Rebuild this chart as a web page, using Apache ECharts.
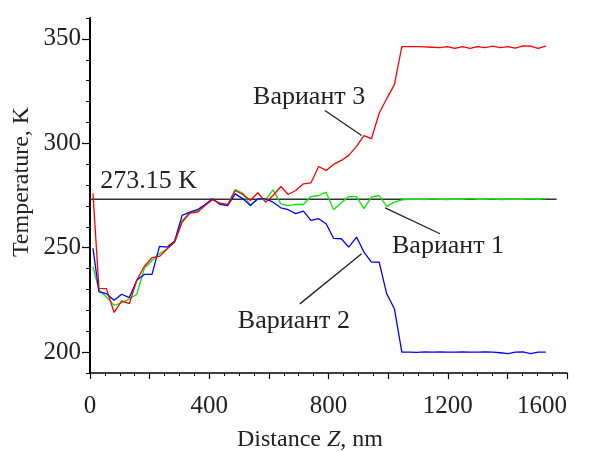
<!DOCTYPE html>
<html><head><meta charset="utf-8">
<script src="https://cdn.jsdelivr.net/npm/echarts@6/dist/echarts.min.js"></script>
<style>html,body{margin:0;padding:0;background:#fff}#c{width:595px;height:452px}</style>
</head><body><div id="c"></div>
<script>
// Distance Z (nm) sample positions shared by all variants
const distanceNm = [10,
  30, 55, 81, 106, 132, 157, 182, 208, 233, 259,
  284, 309, 335, 360, 386, 411, 436, 462, 487, 513,
  538, 563, 589, 614, 640, 665, 690, 716, 741, 767,
  792, 817, 843, 868, 894, 919, 944, 970, 995, 1021,
  1046,
  1071, 1097, 1122, 1148, 1173, 1198, 1224, 1249, 1275, 1300,
  1325, 1351, 1376, 1402, 1427, 1452, 1478, 1503, 1529];

// Вариант 1 (green)
const variant1 = [241,
  229.8, 226.4, 222.4, 223.6, 225.4, 227.7, 240, 243.9, 247.1, 249.5,
  252.7, 263, 266.8, 267.5, 270.5, 273.2, 271, 270.5, 277.8, 276,
  270.2, 273.4, 273, 277.7, 271, 270.2, 270.7, 270.7, 274.5, 275,
  276.6, 268.2, 271.5, 274.5, 274.5, 268.7, 274.2, 275, 269.8, 271.8,
  272.9,
  273.1, 273.3, 273.0, 273.4, 273.2, 273.0, 273.3, 273.2, 273.5, 273.1,
  273.2, 273.4, 273.0, 273.2, 273.3, 273.1, 273.4, 273.2, 273.5];

// Вариант 2 (blue)
const variant2 = [249.7,
  228.8, 228, 224.8, 227.7, 226.1, 234.4, 237.2, 237.2, 250.6, 250.3,
  253.2, 265.5, 267, 268.2, 270.7, 273.4, 270.7, 270.2, 275.8, 273.4,
  270.2, 273.4, 273.4, 271.8, 269.1, 268.2, 266.3, 267.5, 263.1, 263.9,
  261.5, 254.5, 254.3, 250.3, 255.1, 247.9, 243.1, 243.1, 228, 220.8,
  200.0,
  200.0, 199.9, 200.1, 200.0, 200.1, 200.0, 200.0, 200.1, 200.0, 200.0,
  200.1, 200.0, 199.7, 199.3, 200.0, 200.1, 199.3, 200.0, 200.0];

// Вариант 3 (red)
const variant3 = [276,
  230.5, 230.4, 219, 224.5, 223.2, 234.4, 241, 245.2, 245.8, 249.5,
  252.7, 262.2, 266.6, 267, 270.2, 273, 271.3, 270.7, 277.4, 275.5,
  272.6, 276.3, 271.8, 275, 279.3, 275.5, 277.4, 280.6, 281, 288.9,
  287, 289.9, 291.8, 294.2, 298.5, 303.7, 302.2, 314.4, 321.3, 328.1,
  346.3,
  346.3, 346.3, 346.2, 346.0, 345.8, 346.3, 345.4, 346.3, 345.4, 346.3,
  345.8, 346.5, 345.8, 346.3, 345.6, 346.6, 346.5, 345.4, 346.5];

// 273.15 K reference line
const refZ = [0, 1565];
const refT = [273.15, 273.15];

const yMajorTicks = [200, 250, 300, 350];

// annotation texts (data coords of left/middle anchor) and leader lines (data coords)
const labelTexts = ['Вариант 3', 'Вариант 1', 'Вариант 2', '273.15 K'];
const labelAnchors = [[547, 321.9], [1013, 250.6], [496, 214.7], [34, 281.7]];
const leaderFrom = [[788, 315.7], [990, 269.1], [704, 223.1]];
const leaderTo = [[911, 303.7], [1174, 256.7], [911, 247.1]];

const FONT = '"Liberation Serif", "Times New Roman", serif';
const TXT = '#222';

function pairs(xs, ys) { return xs.map((x, i) => [x, ys[i]]); }

const chart = echarts.init(document.getElementById('c'), null, {renderer: 'canvas'});

const lineSeries = (name, ys, color, w) => ({
  name, type: 'line', data: pairs(distanceNm, ys), showSymbol: false, symbol: 'none',
  lineStyle: {color, width: w}, silent: true, animation: false
});

chart.setOption({
  animation: false,
  backgroundColor: '#fff',
  grid: {left: 90, right: 28, top: 18, bottom: 79},
  xAxis: {
    type: 'value', min: 0, max: 1600, interval: 200,
    axisLine: {lineStyle: {color: '#000', width: 1.5}},
    axisTick: {show: true, length: 6, lineStyle: {color: '#000', width: 1.2}},
    minorTick: {show: true, splitNumber: 4, length: 3, lineStyle: {color: '#000', width: 1}},
    axisLabel: {formatter: v => (v % 400 === 0 ? String(v) : ''), fontFamily: FONT, fontSize: 25, color: TXT, margin: 21, alignMaxLabel: 'right'},
    splitLine: {show: false}, minorSplitLine: {show: false}
  },
  yAxis: [{
    type: 'value', min: 190, max: 360, interval: 10,
    axisLine: {show: true, lineStyle: {color: '#000', width: 2}},
    axisTick: {show: true, length: 4, lineStyle: {color: '#000', width: 1}},
    axisLabel: {formatter: v => (yMajorTicks.indexOf(v) >= 0 ? String(v) : ''), fontFamily: FONT, fontSize: 25, color: TXT, margin: 9},
    splitLine: {show: false}
  }, {
    type: 'value', min: 190, max: 360, position: 'left',
    axisLine: {show: false},
    axisTick: {show: true, length: 8, customValues: yMajorTicks, lineStyle: {color: '#000', width: 1.2}},
    axisLabel: {show: false},
    splitLine: {show: false}
  }],
  series: [
    {type: 'line', data: pairs(refZ, refT), showSymbol: false, symbol: 'none', lineStyle: {color: '#333', width: 1.5}, silent: true},
    lineSeries('Вариант 1', variant1, '#00ee00', 1.3),
    lineSeries('Вариант 2', variant2, '#0000ff', 1.3),
    lineSeries('Вариант 3', variant3, '#ff0000', 1.3)
  ]
});

const gfx = [];
leaderFrom.forEach((p, i) => {
  const a = chart.convertToPixel({gridIndex: 0}, p);
  const b = chart.convertToPixel({gridIndex: 0}, leaderTo[i]);
  gfx.push({type: 'line', shape: {x1: a[0], y1: a[1], x2: b[0], y2: b[1]}, style: {stroke: '#222', lineWidth: 1.3}, z: 10});
});
labelTexts.forEach((t, i) => {
  const p = chart.convertToPixel({gridIndex: 0}, labelAnchors[i]);
  gfx.push({type: 'text', x: p[0], y: p[1], z: 10,
    style: {text: t, font: '26px ' + FONT, fill: TXT, textAlign: 'left', textVerticalAlign: 'middle', align: 'left', verticalAlign: 'middle'}});
});
gfx.push({type: 'text', x: 22, y: 182, rotation: Math.PI / 2, z: 10,
  style: {text: 'Temperature, K', font: '24px ' + FONT, fill: TXT, textAlign: 'center', textVerticalAlign: 'middle', align: 'center', verticalAlign: 'middle'}});
gfx.push({type: 'text', x: 310, y: 440, z: 10,
  style: {text: '{a|Distance }{i|Z}{a|, nm}', textAlign: 'center', textVerticalAlign: 'middle', align: 'center', verticalAlign: 'middle',
    rich: {a: {fontFamily: FONT, fontSize: 24, fill: TXT, color: TXT}, i: {fontFamily: FONT, fontSize: 24, fontStyle: 'italic', fill: TXT, color: TXT}}}});
chart.setOption({graphic: gfx});
</script>
</body></html>
